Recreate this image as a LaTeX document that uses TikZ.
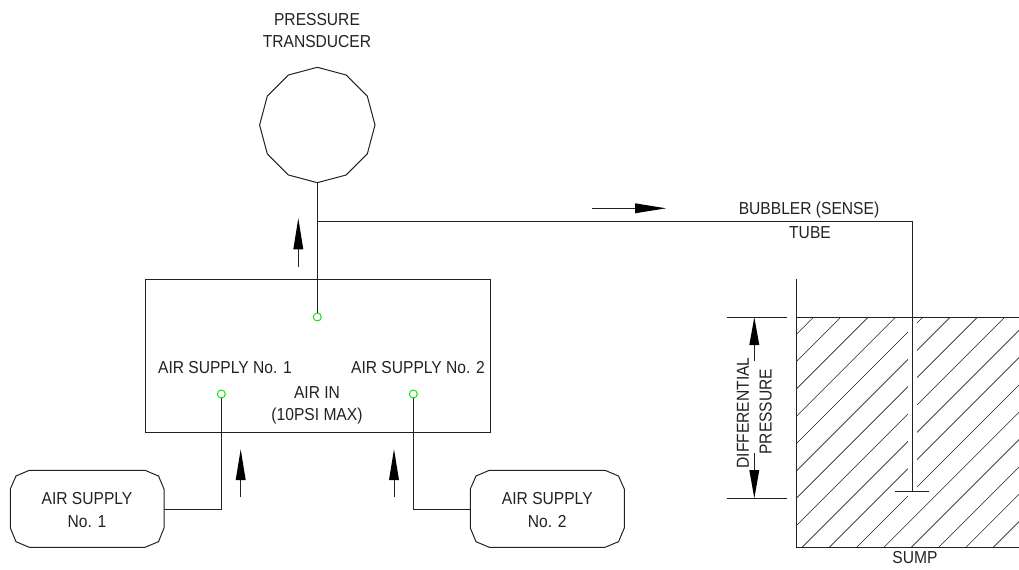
\documentclass[tikz,border=0pt]{standalone}
\usepackage{fontspec}
\setmainfont[FakeStretch=0.9]{Liberation Sans}
\usetikzlibrary{calc}
\definecolor{ink}{HTML}{222222}
\tikzset{
  wire/.style={draw=ink,line width=0.75pt,line join=miter},
  thin wire/.style={draw=ink,line width=0.6pt},
  hatchline/.style={draw=ink,line width=0.45pt},
  head/.style={fill=black,draw=none},
  port/.style={circle,draw=green!90!black,fill=white,line width=0.7pt,minimum size=6pt,inner sep=0pt},
  lbl/.style={inner sep=0pt,font=\fontsize{13}{15}\selectfont,text=ink,align=center},
}
\begin{document}
\begin{tikzpicture}[x=0.75pt,y=-0.75pt]
\useasboundingbox (0,0) rectangle (1019,570);
% coordinates
\coordinate (tb) at (317.3,182.7);
\coordinate (tee) at (317.3,221);
\coordinate (bend) at (912.3,221);
\coordinate (tubeEnd) at (912.3,491.7);
\coordinate (footL) at (895,491.7);
\coordinate (footR) at (929,491.7);
\coordinate (c1) at (221.3,509);
\coordinate (c2) at (413.3,509);
% hatch
\begin{scope}
\clip (796.7,317.3) rectangle (1019,547.3);
\foreach \k in {-1,...,17}{
  \pgfmathsetmacro{\c}{1130.67+27.33*\k}
  \draw[hatchline] (\c-547.3,547.3) -- (\c-317.3,317.3);
}
\end{scope}
\fill[white] (907.7,318) rectangle (916.7,496.5);
% sump
\coordinate (wallT) at (796.7,279);
\coordinate (wallB) at (796.7,547.3);
\coordinate (floorR) at (1019,547.3);
\coordinate (levelL) at (796.7,317.3);
\coordinate (levelR) at (1019,317.3);
\draw[wire] (wallT) -- (wallB) -- (floorR);
\draw[wire] (levelL) -- (levelR);
% transducer
\draw[wire] (317.3,67.3) -- (346.15,75) -- (367.3,96.15) -- (375,125) -- (367.3,153.85) -- (346.15,175) -- (317.3,182.7) -- (288.45,175) -- (267.3,153.85) -- (259.6,125) -- (267.3,96.15) -- (288.45,75) -- cycle;
% main box
\node[draw=ink,line width=0.85pt,inner sep=0pt,minimum width=345.4*0.75pt,minimum height=153.6*0.75pt,anchor=north west] (panel) at (144.6,278.7) {};
% supply boxes
\draw[wire] (29.3,470.3) -- (145,470.3) -- (158.5,476) -- (164,489) -- (164,528) -- (158.5,541.7) -- (145,547.3) -- (29.3,547.3) -- (16,541.7) -- (10.3,528) -- (10.3,489) -- (16,476) -- cycle;
\coordinate (s1R) at (164,509);
\draw[wire] (489.3,470.3) -- (605,470.3) -- (618.5,476) -- (624.3,489) -- (624.3,528) -- (618.5,541.7) -- (605,547.3) -- (489.3,547.3) -- (476,541.7) -- (470.3,528) -- (470.3,489) -- (476,476) -- cycle;
\coordinate (s2L) at (470.3,509);
% ports
\node[port] (pT) at (317.3,317) {};
\node[port] (p1) at (221.3,394) {};
\node[port] (p2) at (413.3,394) {};
% connectors
\draw[wire] (tb) -- (pT);
\draw[wire] (tee) -- (bend) -- (tubeEnd);
\draw[wire] (footL) -- (footR);
\draw[wire] (s1R) -- (c1) -- (p1);
\draw[wire] (s2L) -- (c2) -- (p2);
% flow arrows
\newcommand{\uparr}[5]{% name, x, tip, base, tail
  \coordinate (a#1) at (#2,#5); \coordinate (b#1) at (#2,#4);
  \draw[thin wire] (a#1) -- (b#1);
  \fill[head] (#2,#3) -- (#2+5,#4) -- (#2-5,#4) -- cycle;}
\uparr{one}{240.7}{449.3}{480}{497}
\uparr{two}{394}{449.3}{480}{497}
\uparr{three}{298.3}{218.3}{249.3}{266.7}
\coordinate (hA) at (592.3,208.3);
\coordinate (hB) at (635,208.3);
\draw[thin wire] (hA) -- (hB);
\fill[head] (666,208.3) -- (635,203.3) -- (635,213.3) -- cycle;
% dimension
\coordinate (d1L) at (727,317.3); \coordinate (d1R) at (787,317.3);
\coordinate (d2L) at (727,498.3); \coordinate (d2R) at (787,498.3);
\draw[wire] (d1L) -- (d1R);
\draw[wire] (d2L) -- (d2R);
\coordinate (e1) at (754.3,345); \coordinate (e2) at (754.3,361);
\coordinate (e3) at (754.3,453); \coordinate (e4) at (754.3,470);
\draw[thin wire] (e1) -- (e2);
\draw[thin wire] (e3) -- (e4);
\fill[head] (754.3,317.3) -- (759.3,345) -- (749.3,345) -- cycle;
\fill[head] (754.3,498.3) -- (759.3,470) -- (749.3,470) -- cycle;
% labels
\node[lbl] (t1) at (317,20) {PRESSURE};
\node[lbl] (t2) at (317,42) {TRANSDUCER};
\node[lbl] (t3) at (225,367.7) {AIR SUPPLY No. 1};
\node[lbl] (t4) at (418,367.7) {AIR SUPPLY No. 2};
\node[lbl] (t5) at (317,393) {AIR IN};
\node[lbl] (t6) at (317,415.7) {(10PSI MAX)};
\node[lbl] (t7) at (87,499) {AIR SUPPLY};
\node[lbl] (t8) at (87,522) {No. 1};
\node[lbl] (t9) at (547.3,499) {AIR SUPPLY};
\node[lbl] (t10) at (547.3,522) {No. 2};
\node[lbl] (t11) at (809,210) {BUBBLER (SENSE)};
\node[lbl] (t12) at (810,232.7) {TUBE};
\node[lbl] (t13) at (915,558) {SUMP};
\node[lbl,rotate=90] (t14) at (743,413) {DIFFERENTIAL};
\node[lbl,rotate=90] (t15) at (765.7,411.7) {PRESSURE};
\end{tikzpicture}
\end{document}
